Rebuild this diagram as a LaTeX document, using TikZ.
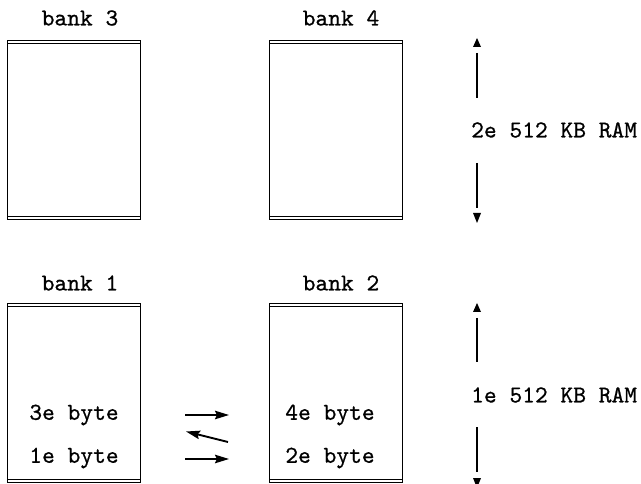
\documentclass[tikz,border=0pt]{standalone}
\usepackage{fontspec}
\newfontfamily\cour{lmmono10-regular.otf}[FakeBold=0.7]
\usetikzlibrary{arrows.meta}
\tikzset{
  bankbox/.style={draw, line width=1.1pt, minimum width=133pt, minimum height=179pt, inner sep=0pt, anchor=north west},
  lbl/.style={font=\cour\fontsize{24.3}{28}\selectfont, inner sep=0pt},
  xfer/.style={line width=1.9pt, -{Stealth[length=14pt,width=8.5pt,inset=2pt]}},
  dimline/.style={line width=1.1pt},
  dimhead/.style={fill=black}
}
\begin{document}
\begin{tikzpicture}[x=1pt,y=-1pt]
\useasboundingbox (0,0) rectangle (641,484);
% boxes
\node[bankbox] (b3) at (7,40) {};
\node[bankbox] (b4) at (269,40) {};
\node[bankbox] (b1) at (7,303) {};
\node[bankbox] (b2) at (269,303) {};
\foreach \b in {b1,b2,b3,b4}{
  \draw[line width=0.9pt] ([yshift=-3.5pt]\b.north west) -- ([yshift=-3.5pt]\b.north east);
  \draw[line width=0.9pt] ([yshift=3.5pt]\b.south west) -- ([yshift=3.5pt]\b.south east);
}
% titles
\node[lbl] (t3) at (80,18) {bank 3};
\node[lbl] (t4) at (341,18) {bank 4};
\node[lbl] (t1) at (80,283) {bank 1};
\node[lbl] (t2) at (341,283) {bank 2};
% bytes
\node[lbl] (y3) at (74,415) {3e byte};
\node[lbl] (y1) at (74,458) {1e byte};
\node[lbl] (y4) at (330,415) {4e byte};
\node[lbl] (y2) at (330,458) {2e byte};
% transfer arrows
\coordinate (a1s) at (185,415); \coordinate (a1e) at (229,415);
\coordinate (a2s) at (228,442); \coordinate (a2e) at (186,431.5);
\coordinate (a3s) at (185,459); \coordinate (a3e) at (229,459);
\draw[xfer] (a1s) -- (a1e);
\draw[xfer] (a2s) -- (a2e);
\draw[xfer] (a3s) -- (a3e);
% RAM labels
\node[lbl, anchor=west] (r2) at (471,130) {2e 512 KB RAM};
\node[lbl, anchor=west] (r1) at (471,395) {1e 512 KB RAM};
% dimension arrows upper
\coordinate (u1) at (477,53); \coordinate (u2) at (477,98);
\coordinate (u3) at (477,163); \coordinate (u4) at (477,208);
\draw[dimline] (u1) -- (u2);
\draw[dimline] (u3) -- (u4);
\fill[dimhead] (477,38) -- (481,47) -- (473,47) -- cycle;
\fill[dimhead] (477,223) -- (481,213) -- (473,213) -- cycle;
% dimension arrows lower
\coordinate (l1) at (477,318); \coordinate (l2) at (477,362);
\coordinate (l3) at (477,427); \coordinate (l4) at (477,472);
\draw[dimline] (l1) -- (l2);
\draw[dimline] (l3) -- (l4);
\fill[dimhead] (477,303) -- (481,312) -- (473,312) -- cycle;
\fill[dimhead] (477,488) -- (481,478) -- (473,478) -- cycle;
\end{tikzpicture}
\end{document}
